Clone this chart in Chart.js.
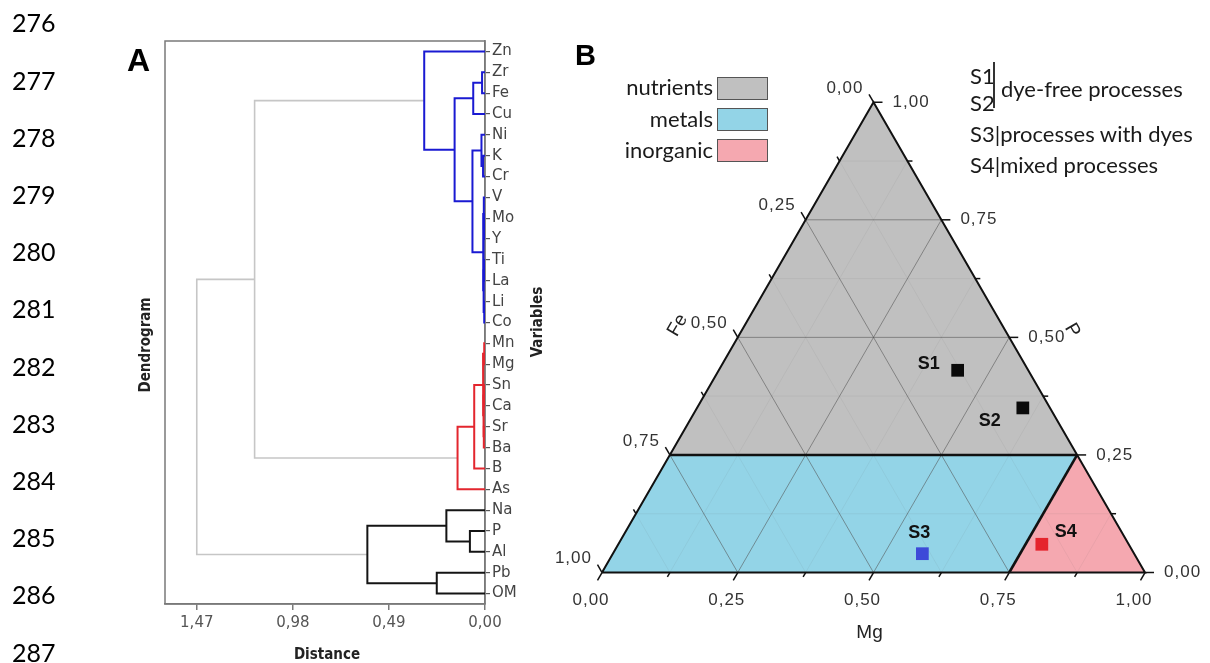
<!DOCTYPE html>
<html>
<head>
<meta charset="utf-8">
<title>Dendrogram and ternary diagram</title>
<script src="https://cdn.jsdelivr.net/npm/chart.js@4.4.1/dist/chart.umd.min.js"></script>
<style>
  body { margin: 0; background: #fff; }
  #page { position: relative; width: 1210px; height: 663px; overflow: hidden; }
  canvas { position: absolute; top: 0; }
  #dendro { left: 0; }
  #ternary { left: 540px; }
  .txt { position: absolute; white-space: nowrap; color: #1a1a1a; font-family: Lato, sans-serif; line-height: 1; }
  .lineno { left: 12px; font-size: 25px; color: #000; }
  .panel { font-family: "Liberation Sans", Arial, sans-serif; font-weight: bold; color: #000; }
  .key { font-size: 22px; text-align: right; right: 497px; }
  .swatch { position: absolute; left: 717px; width: 51px; height: 23px; border: 1.5px solid #555; box-sizing: border-box; }
  .proc { font-size: 22px; }
  .bar { position: absolute; background: #333; width: 1.5px; }
</style>
</head>
<body>
<div id="page">
  <canvas id="dendro" width="560" height="663"></canvas>
  <canvas id="ternary" width="670" height="663"></canvas>
  <div class="txt panel" style="left:127px;top:44px;font-size:32px">A</div>
  <div class="txt panel" style="left:575px;top:41px;font-size:29px">B</div>
  <div class="txt proc" style="left:970px;top:65px">S1</div>
  <div class="txt proc" style="left:970px;top:92px">S2</div>
  <div class="bar" style="left:993px;top:62px;height:46px"></div>
  <div class="txt proc" style="left:1001px;top:78px">dye-free processes</div>
  <div class="txt proc" style="left:970px;top:123px">S3|processes with dyes</div>
  <div class="txt proc" style="left:970px;top:154px">S4|mixed processes</div>
</div>
<script>
/*  Data: dendrogram  */
const leafNames = ['Zn', 'Zr', 'Fe', 'Cu', 'Ni', 'K', 'Cr', 'V', 'Mo', 'Y', 'Ti', 'La', 'Li', 'Co',
    'Mn', 'Mg', 'Sn', 'Ca', 'Sr', 'Ba', 'B', 'As', 'Na', 'P', 'Al', 'Pb', 'OM'];

// [child A, child B, distance, cluster]; ids from 27 up are the earlier merges in this list
const merges = [
    [1, 2, 0.015, 'blue'],    // 27 Zr-Fe
    [27, 3, 0.06, 'blue'],    // 28 + Cu
    [5, 6, 0.01, 'blue'],     // 29 K-Cr
    [4, 29, 0.018, 'blue'],   // 30 Ni + 29
    [8, 9, 0.004, 'blue'],    // 31 Mo-Y
    [7, 31, 0.006, 'blue'],   // 32 V + 31
    [10, 11, 0.004, 'blue'],  // 33 Ti-La
    [12, 13, 0.004, 'blue'],  // 34 Li-Co
    [33, 34, 0.007, 'blue'],  // 35
    [32, 35, 0.01, 'blue'],   // 36
    [30, 36, 0.064, 'blue'],  // 37
    [28, 37, 0.155, 'blue'],  // 38
    [0, 38, 0.31, 'blue'],    // 39 Zn + rest
    [14, 15, 0.004, 'red'],   // 40 Mn-Mg
    [16, 17, 0.004, 'red'],   // 41 Sn-Ca
    [18, 19, 0.006, 'red'],   // 42 Sr-Ba
    [41, 42, 0.008, 'red'],   // 43
    [40, 43, 0.01, 'red'],    // 44
    [44, 20, 0.055, 'red'],   // 45 + B
    [45, 21, 0.14, 'red'],    // 46 + As
    [23, 24, 0.077, 'black'], // 47 P-Al
    [22, 47, 0.197, 'black'], // 48 Na + 47
    [25, 26, 0.246, 'black'], // 49 Pb-OM
    [48, 49, 0.60, 'black'],  // 50
    [39, 46, 1.175, 'grey'],  // 51
    [51, 50, 1.47, 'grey']    // 52
];
const distanceTicks = [1.47, 0.98, 0.49, 0.00];
const distanceMax = 1.632;

/*  Data: ternary diagram (Fe + Mg + P = 1)  */
const ternaryTicks = [0, 0.25, 0.5, 0.75, 1];
const ternaryMinorTicks = [0.125, 0.375, 0.625, 0.875];
const regionNames = ['nutrients', 'metals', 'inorganic'];
const nutrientsMinP = 0.25;
const inorganicMinMg = 0.75;
const sampleNames = ['S1', 'S2', 'S3', 'S4'];
const sampleFe = [0.13, 0.05, 0.39, 0.16];
const sampleMg = [0.44, 0.60, 0.57, 0.78];
const sampleP = [0.43, 0.35, 0.04, 0.06];

const lineNumbers = [276, 277, 278, 279, 280, 281, 282, 283, 284, 285, 286, 287];

/*  Styles  */
const clusterColors = { blue: '#1a1ad2', red: '#e3262e', black: '#141414', grey: '#c6c6c6' };
const regionColors = ['#c0c0c0', '#93d4e7', '#f5a8b0'];
const sampleColors = ['#0a0a0a', '#0a0a0a', '#3d4ad8', '#e5242c'];
const sampleLabelOffset = [[-29, -6], [-33, 13], [-3, -21], [24, -12]];

/*  Page text  */
const page = document.getElementById('page');
lineNumbers.forEach((n, i) => {
    const d = document.createElement('div');
    d.className = 'txt lineno';
    d.style.top = (23.5 + i * 57.2 - 13.2) + 'px';
    d.textContent = n;
    page.appendChild(d);
});
regionNames.forEach((name, i) => {
    const t = document.createElement('div');
    t.className = 'txt key';
    t.style.top = (76 + i * 31.5) + 'px';
    t.textContent = name;
    page.appendChild(t);
    const s = document.createElement('div');
    s.className = 'swatch';
    s.style.top = (77 + i * 31) + 'px';
    s.style.background = regionColors[i];
    page.appendChild(s);
});

/*  Part 1: dendrogram  */
const nodeY = leafNames.map((_, i) => i);
const nodeH = leafNames.map(() => 0);
const dendroSets = merges.map(([a, b, h, group]) => {
    const data = [
        { x: nodeH[a], y: nodeY[a] }, { x: h, y: nodeY[a] },
        { x: h, y: nodeY[b] }, { x: nodeH[b], y: nodeY[b] }
    ];
    nodeY.push((nodeY[a] + nodeY[b]) / 2);
    nodeH.push(h);
    return {
        data,
        showLine: true,
        borderColor: clusterColors[group],
        borderWidth: group === 'grey' ? 1.6 : 2,
        pointRadius: 0,
        fill: false,
        tension: 0,
        order: group === 'grey' ? 2 : 1
    };
});

const dendroDecor = {
    id: 'dendroDecor',
    beforeDatasetsDraw(chart) {
        const { ctx, chartArea: a } = chart;
        ctx.save();
        ctx.strokeStyle = '#7a7a7a';
        ctx.lineWidth = 1.5;
        ctx.strokeRect(a.left, a.top, a.right - a.left, a.bottom - a.top);
        ctx.restore();
    },
    afterDraw(chart) {
        const { ctx, chartArea: a } = chart;
        ctx.save();
        ctx.fillStyle = '#222';
        ctx.font = 'bold 15px "DejaVu Sans Condensed", "DejaVu Sans", sans-serif';
        ctx.textAlign = 'center';
        ctx.textBaseline = 'middle';
        ctx.fillText('Distance', (a.left + a.right) / 2 + 2, 655);
        [['Dendrogram', 146, 345], ['Variables', 538, 322]].forEach(([txt, x, y]) => {
            ctx.save();
            ctx.translate(x, y);
            ctx.rotate(-Math.PI / 2);
            ctx.fillText(txt, 0, 0);
            ctx.restore();
        });
        ctx.restore();
    }
};

new Chart(document.getElementById('dendro'), {
    type: 'scatter',
    data: { datasets: dendroSets },
    options: {
        responsive: false,
        animation: false,
        devicePixelRatio: 1,
        events: [],
        layout: { autoPadding: false, padding: { left: 165, top: 41, right: 0, bottom: 0 } },
        plugins: { legend: { display: false }, tooltip: { enabled: false } },
        scales: {
            x: {
                type: 'linear',
                reverse: true,
                min: 0,
                max: distanceMax,
                afterBuildTicks: s => { s.ticks = distanceTicks.map(v => ({ value: v })); },
                afterFit: s => { s.height = 59; },
                ticks: {
                    callback: v => v.toFixed(2).replace('.', ','),
                    font: { family: 'DejaVu Sans', size: 15 },
                    color: '#555',
                    padding: 4,
                    maxRotation: 0,
                    autoSkip: false
                },
                grid: { drawOnChartArea: false, tickLength: 6, color: '#7a7a7a', lineWidth: 1.5 },
                border: { color: '#7a7a7a', width: 1.5 }
            },
            y: {
                type: 'linear',
                position: 'right',
                reverse: true,
                min: -0.5,
                max: 26.5,
                afterBuildTicks: s => { s.ticks = leafNames.map((_, i) => ({ value: i })); },
                afterFit: s => { s.width = 75; },
                ticks: {
                    callback: v => leafNames[v],
                    font: { family: 'DejaVu Sans', size: 15 },
                    color: '#444',
                    padding: 2,
                    autoSkip: false
                },
                grid: { drawOnChartArea: false, tickLength: 5, color: '#555', lineWidth: 1.2 },
                border: { color: '#7a7a7a', width: 1.5 }
            }
        }
    },
    plugins: [dendroDecor]
});

/*  Part 2: ternary diagram  */
const triLeft = 62;      // bottom-left corner inside the canvas
const triBase = 572.5;
const triSide = 543;
const canvasW = 670, canvasH = 663;
const SQ3 = Math.sqrt(3) / 2;

function toXY(mg, p) {
    return { x: mg + p / 2, y: p * SQ3 };
}

function lineSet(points, color, width, order) {
    return { data: points, showLine: true, borderColor: color, borderWidth: width,
        pointRadius: 0, fill: false, tension: 0, order };
}

function gridFamily(values) {
    const out = [];
    values.forEach(c => {
        out.push([toXY(0, c), toXY(1 - c, c)]);      // constant P
        out.push([toXY(c, 0), toXY(c, 1 - c)]);      // constant Mg
        out.push([toXY(1 - c, 0), toXY(0, 1 - c)]);  // constant Fe
    });
    return out;
}

const regionPolys = [
    [toXY(0, nutrientsMinP), toXY(1 - nutrientsMinP, nutrientsMinP), toXY(0, 1)],
    [toXY(0, 0), toXY(inorganicMinMg, 0), toXY(inorganicMinMg, 1 - inorganicMinMg), toXY(0, nutrientsMinP)],
    [toXY(inorganicMinMg, 0), toXY(1, 0), toXY(inorganicMinMg, 1 - inorganicMinMg)]
];

const ternarySets = [];
regionPolys.forEach((poly, i) => {
    ternarySets.push({
        label: regionNames[i],
        data: [...poly, poly[0]],
        showLine: true,
        fill: 'shape',
        backgroundColor: regionColors[i],
        borderColor: regionColors[i],
        borderWidth: 0.5,
        pointRadius: 0,
        tension: 0,
        order: 10
    });
});
gridFamily(ternaryMinorTicks).forEach(seg => ternarySets.push(lineSet(seg, 'rgba(90,90,90,0.08)', 1, 8)));
gridFamily(ternaryTicks.filter(t => t > 0 && t < 1)).forEach(seg => ternarySets.push(lineSet(seg, 'rgba(80,80,80,0.7)', 0.8, 7)));
ternarySets.push(lineSet([toXY(0, 0), toXY(1, 0), toXY(0, 1), toXY(0, 0)], '#111', 2, 5));
ternarySets.push(lineSet([toXY(0, nutrientsMinP), toXY(1 - nutrientsMinP, nutrientsMinP)], '#111', 2.6, 4));
ternarySets.push(lineSet([toXY(inorganicMinMg, 0), toXY(inorganicMinMg, 1 - inorganicMinMg)], '#111', 2.6, 4));
const sampleIndex = ternarySets.length;
ternarySets.push({
    data: sampleMg.map((mg, i) => toXY(mg, sampleP[i])),
    pointStyle: 'rect',
    pointRadius: 9,
    backgroundColor: sampleColors,
    borderColor: sampleColors,
    borderWidth: 0,
    showLine: false,
    order: 0
});

const ternaryAxes = {
    id: 'ternaryAxes',
    afterDatasetsDraw(chart) {
        const { ctx } = chart;
        const sx = chart.scales.x, sy = chart.scales.y;
        const pix = (mg, p) => {
            const c = toXY(mg, p);
            return [sx.getPixelForValue(c.x), sy.getPixelForValue(c.y)];
        };
        const fmt = t => t.toFixed(2).replace('.', ',');
        ctx.save();
        ctx.strokeStyle = '#111';
        ctx.lineWidth = 1.5;
        const tick = (x, y, dx, dy, len) => {
            ctx.beginPath();
            ctx.moveTo(x, y);
            ctx.lineTo(x + dx * len, y + dy * len);
            ctx.stroke();
        };
        ternaryTicks.map(t => [t, 9]).concat(ternaryMinorTicks.map(t => [t, 5])).forEach(([t, len]) => {
            const [bx, by] = pix(t, 0);
            tick(bx, by, -0.5, SQ3, len);
            const [lx, ly] = pix(0, 1 - t);
            tick(lx, ly, -0.5, -SQ3, len);
            const [rx, ry] = pix(1 - t, t);
            tick(rx, ry, 1, 0, len);
        });

        ctx.font = '17px "Liberation Sans", Arial, sans-serif';
        ctx.letterSpacing = '1px';
        ctx.fillStyle = '#333';
        ctx.textBaseline = 'middle';
        ternaryTicks.forEach(t => {
            const [bx, by] = pix(t, 0);
            ctx.textAlign = 'center';
            ctx.fillText(fmt(t), bx - 11, by + 28);
            const [lx, ly] = pix(0, 1 - t);
            ctx.textAlign = 'right';
            ctx.fillText(fmt(t), lx - 10, ly - 14);
            const [rx, ry] = pix(1 - t, t);
            ctx.textAlign = 'left';
            ctx.fillText(fmt(t), rx + 19, ry);
        });

        ctx.letterSpacing = '0px';
        ctx.font = '19px "Liberation Sans", Arial, sans-serif';
        ctx.fillStyle = '#222';
        ctx.textAlign = 'center';
        const [mx, my] = pix(0.5, 0);
        ctx.fillText('Mg', mx - 4, my + 60);
        const [fx, fy] = pix(0, 0.5);
        ctx.save();
        ctx.translate(fx - 60, fy - 12);
        ctx.rotate(-Math.PI / 3);
        ctx.fillText('Fe', 0, 0);
        ctx.restore();
        const [px, py] = pix(0.5, 0.5);
        ctx.save();
        ctx.translate(px + 63, py - 7);
        ctx.rotate(Math.PI / 3);
        ctx.fillText('P', 0, 0);
        ctx.restore();

        ctx.font = 'bold 18px "Liberation Sans", Arial, sans-serif';
        ctx.fillStyle = '#111';
        chart.getDatasetMeta(sampleIndex).data.forEach((pt, i) => {
            const [dx, dy] = sampleLabelOffset[i];
            ctx.fillText(sampleNames[i], pt.x + dx, pt.y + dy);
        });
        ctx.restore();
    }
};

new Chart(document.getElementById('ternary'), {
    type: 'scatter',
    data: { datasets: ternarySets },
    options: {
        responsive: false,
        animation: false,
        devicePixelRatio: 1,
        events: [],
        layout: { autoPadding: false, padding: 0 },
        plugins: { legend: { display: false }, tooltip: { enabled: false } },
        scales: {
            x: { type: 'linear', display: false, min: -triLeft / triSide, max: (canvasW - triLeft) / triSide },
            y: { type: 'linear', display: false, min: -(canvasH - triBase) / triSide, max: triBase / triSide }
        }
    },
    plugins: [ternaryAxes]
});
</script>
</body>
</html>
